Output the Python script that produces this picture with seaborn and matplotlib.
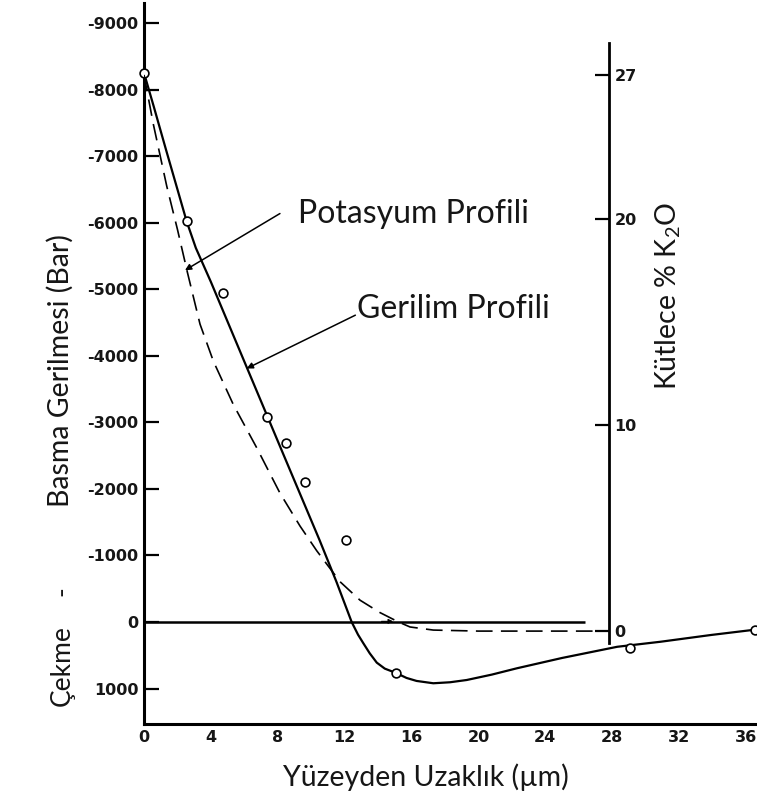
import matplotlib
matplotlib.use("Agg")
import matplotlib.pyplot as plt
import pandas as pd
import seaborn as sns

# Measured stress values (bar, negative = compression) vs depth below surface (µm)
measured_depth = [0, 2.55, 4.7, 7.34, 8.5, 9.65, 12.06, 15.07, 29.07, 36.54]
measured_stress = [-8250, -6020, -4950, -3080, -2690, -2100, -1230, 760, 395, 120]

# Stress profile curve (bar)
stress_depth = [0, 0.6, 1.3, 2.0, 2.55, 3.1, 4.0, 6.14, 8.3, 10.5, 11.5, 12.42,
                12.8, 13.12, 13.5, 13.92, 14.4, 15.07, 15.7, 16.3, 17.3, 18.3,
                19.3, 20.8, 22.3, 25.0, 28.3, 30.9, 33.9, 36.7]
stress_value = [-8250, -7730, -7110, -6500, -6020, -5620, -5110, -3830, -2540,
                 -1230, -610, 0, 190, 320, 470, 610, 700, 765, 840, 885, 920,
                 905, 871, 790, 695, 540, 372, 296, 195, 110]

# Potassium profile (wt % K2O)
potassium_depth = [0, 0.56, 1.36, 2.0, 2.6, 3.35, 4.15, 5.34, 6.74, 8.13, 9.33,
                   10.33, 11.72, 12.92, 14.11, 15.2, 15.91, 17.3, 20.0, 24.0, 27.7]
potassium_k2o = [27.0, 24.6, 21.6, 19.5, 17.4, 14.9, 13.1, 11.0, 8.9, 6.7, 5.1,
                 3.9, 2.4, 1.5, 0.9, 0.45, 0.2, 0.05, 0.0, 0.0, 0.0]

x_ticks = [0, 4, 8, 12, 16, 20, 24, 28, 32, 36]
stress_ticks = [-9000, -8000, -7000, -6000, -5000, -4000, -3000, -2000, -1000, 0, 1000]
k2o_ticks = [0, 10, 20, 27]

stress_df = pd.DataFrame({"depth": stress_depth, "stress": stress_value})
measured_df = pd.DataFrame({"depth": measured_depth, "stress": measured_stress})
potassium_df = pd.DataFrame({"depth": potassium_depth, "k2o": potassium_k2o})

sns.set_style("white")
plt.rcParams["font.family"] = ["DejaVu Sans"]
plt.rcParams["axes.unicode_minus"] = False
plt.rcParams["mathtext.fontset"] = "custom"
plt.rcParams["mathtext.rm"] = "Lato"

LABEL_FONT = ["Lato", "DejaVu Sans"]
TICK_FONT = dict(family="DejaVu Sans", weight="bold", size=11.5)
INK = "#161616"

W, H = 757, 798
fig = plt.figure(figsize=(W / 100, H / 100), dpi=100)
ax = fig.add_axes([144 / W, 1 - 724 / H, (W - 144) / W, (724 - 3) / H])

# Stress axis (compression upward)
ax.set_xlim(0, 36.66)
ax.set_ylim(1532, -9300)

sns.lineplot(data=stress_df, x="depth", y="stress", ax=ax, color="black",
             lw=1.6, sort=False, estimator=None)
ax.hlines(0, 0, 26.4, color="black", lw=1.8, zorder=2)
sns.scatterplot(data=measured_df, x="depth", y="stress", ax=ax, s=40,
                facecolor="white", edgecolor="black", linewidth=1.2, zorder=5,
                clip_on=False)

for side in ("top", "right"):
    ax.spines[side].set_visible(False)
for side in ("left", "bottom"):
    ax.spines[side].set_linewidth(2.2)
    ax.spines[side].set_color("black")

ax.set_xticks(x_ticks)
ax.set_xticklabels([str(v) for v in x_ticks], fontdict=TICK_FONT, color=INK)
ax.set_yticks(stress_ticks)
ax.set_yticklabels([str(v) for v in stress_ticks], fontdict=TICK_FONT, color=INK)
ax.tick_params(axis="x", direction="in", length=10, width=1.6, pad=4, color="black")
ax.tick_params(axis="y", direction="in", length=11, width=1.6, pad=4, color="black")
ax.set_xlabel("")
ax.set_ylabel("")

# K2O axis
ax2 = ax.twinx()
ax2.set_ylim(-4.51, 30.49)
sns.lineplot(data=potassium_df, x="depth", y="k2o", ax=ax2, color="black",
             lw=1.2, sort=False, estimator=None, dashes=False)
ax2.lines[-1].set_dashes((10, 5))
for side in ("top", "left", "bottom"):
    ax2.spines[side].set_visible(False)
ax2.spines["right"].set_position(("data", 27.8))
ax2.spines["right"].set_bounds(-0.58, 28.54)
ax2.spines["right"].set_linewidth(2.0)
ax2.spines["right"].set_color("black")
ax2.set_yticks(k2o_ticks)
ax2.set_yticklabels([str(v) for v in k2o_ticks], fontdict=TICK_FONT, color=INK)
ax2.tick_params(axis="y", direction="in", length=10, width=1.6, pad=4, color="black")
ax2.set_ylabel("")
ax2.set_xlabel("")

# Profile annotations
arrow = dict(arrowstyle="-|>", color="black", lw=1.1, mutation_scale=9,
             shrinkA=0, shrinkB=0)
ax.annotate("", xy=(2.45, -5285), xytext=(8.13, -6137), arrowprops=arrow)
ax.annotate("", xy=(6.14, -3809), xytext=(12.64, -4610), arrowprops=arrow)
ax.annotate("", xy=(14.9, -10), xytext=(14.2, -10),
            arrowprops=dict(arrowstyle="-|>", color="black", lw=0.8,
                            mutation_scale=7, shrinkA=0, shrinkB=0))
ax.text(9.21, -5995, "Potasyum Profili", family=LABEL_FONT, size=23,
        ha="left", va="baseline", color=INK)
ax.text(12.72, -4575, "Gerilim Profili", family=LABEL_FONT, size=23,
        ha="left", va="baseline", color=INK)

# Axis titles
fig.text(426 / W, 1 - 786 / H, "Yüzeyden Uzaklık (µm)", family=LABEL_FONT,
         size=20.5, ha="center", va="baseline", color=INK)
fig.text(60 / W, 1 - 371 / H, "Basma Gerilmesi (Bar)", family=LABEL_FONT,
         size=20.5, rotation=90, ha="center", va="center", color=INK)
fig.text(62 / W, 1 - 591 / H, "-", family=LABEL_FONT, size=19, rotation=90,
         ha="center", va="center", color=INK)
fig.text(62 / W, 1 - 666 / H, "Çekme", family=LABEL_FONT, size=19, rotation=90,
         ha="center", va="center", color=INK)
fig.text(668 / W, 1 - 296 / H, "Kütlece % K$_\\mathrm{2}$O", family=LABEL_FONT,
         size=20.5, rotation=90, ha="center", va="center", color=INK)

fig.savefig("out.png", dpi=100, facecolor="white")
